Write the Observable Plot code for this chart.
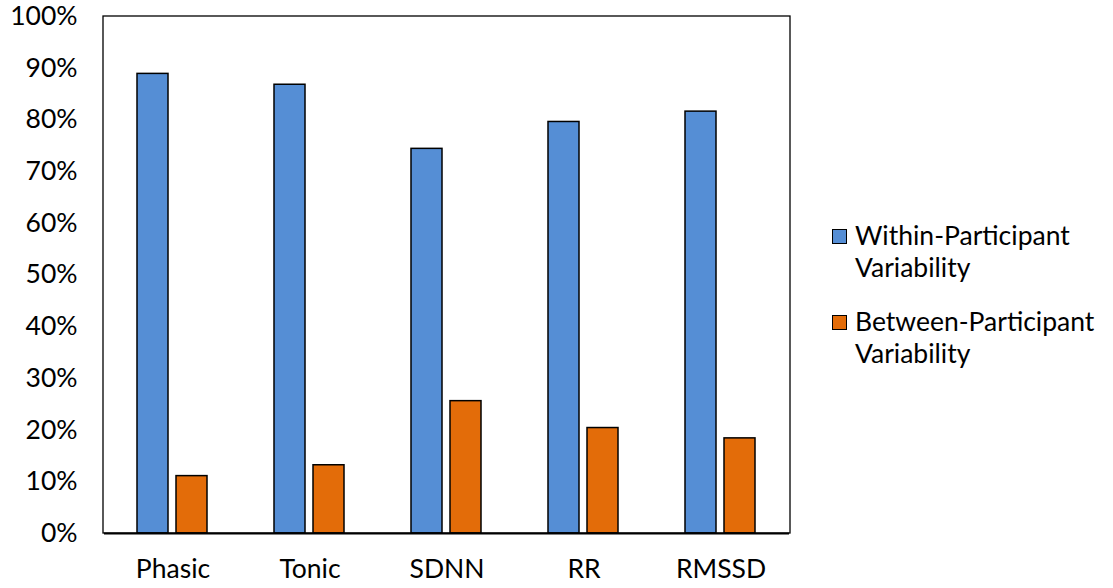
<!DOCTYPE html>
<html>
<head>
<meta charset="utf-8">
<script src="https://cdn.jsdelivr.net/npm/d3@7"></script>
<script src="https://cdn.jsdelivr.net/npm/@observablehq/plot@0.6"></script>
<style>
  html, body { margin: 0; padding: 0; background: #fff; }
  #wrap { position: relative; width: 1113px; height: 588px; font-family: Lato, "Open Sans", sans-serif; }
  #legend { position: absolute; left: 832px; top: 219px; font-size: 26.5px; color: #000; line-height: 32px; }
  .item { position: relative; padding-left: 23px; margin-bottom: 22px; white-space: nowrap; }
  .sw { position: absolute; left: 0; top: 10px; width: 13px; height: 13px; border: 1.5px solid #000; box-sizing: content-box; }
</style>
</head>
<body>
<div id="wrap"></div>
<script>
// Share of variance in each physiological measure
const categories = ["Phasic", "Tonic", "SDNN", "RR", "RMSSD"];
const withinParticipant = [88.9, 86.8, 74.4, 79.6, 81.6];
const betweenParticipant = [11.1, 13.2, 25.6, 20.4, 18.4];
const seriesNames = ["Within-Participant Variability", "Between-Participant Variability"];
const seriesColors = ["#558ED5", "#E36C09"];
const yTicks = [0, 10, 20, 30, 40, 50, 60, 70, 80, 90, 100];

const rows = categories.flatMap((c, i) => [
  {category: c, series: seriesNames[0], value: withinParticipant[i]},
  {category: c, series: seriesNames[1], value: betweenParticipant[i]}
]);

const W = 1113, H = 588;
const mL = 103, mR = 323, mT = 16, mB = 55;

const chart = Plot.plot({
  width: W,
  height: H,
  marginLeft: mL,
  marginRight: mR,
  marginTop: mT,
  marginBottom: mB,
  style: {fontFamily: "Lato, 'Open Sans', sans-serif", fontSize: "26.5px", color: "#000", background: "#fff"},
  fx: {domain: categories, padding: 0, axis: "bottom", label: null, tickSize: 0, tickPadding: 26},
  x: {domain: seriesNames, paddingInner: 0.205, paddingOuter: 0.85, axis: null},
  y: {domain: [0, 100], ticks: yTicks, tickFormat: d => d + "%", tickSize: 0, tickPadding: 27, label: null},
  color: {domain: seriesNames, range: seriesColors},
  marks: [
    Plot.barY(rows, {fx: "category", x: "series", y: "value", fill: "series", stroke: "#000", strokeWidth: 1.5}),
    Plot.ruleY([0], {stroke: "#000", strokeWidth: 2})
  ]
});

// outline of the plotting area
d3.select(chart).append("rect")
  .attr("x", mL).attr("y", mT)
  .attr("width", W - mL - mR).attr("height", H - mT - mB)
  .attr("fill", "none").attr("stroke", "#000").attr("stroke-width", 1.3);

const wrap = document.getElementById("wrap");
wrap.appendChild(chart);

// legend
const legend = document.createElement("div");
legend.id = "legend";
const labels = [["Within-Participant", "Variability"], ["Between-Participant", "Variability"]];
labels.forEach((lines, i) => {
  const item = document.createElement("div");
  item.className = "item";
  const sw = document.createElement("span");
  sw.className = "sw";
  sw.style.background = seriesColors[i];
  item.appendChild(sw);
  lines.forEach((t, j) => {
    if (j) item.appendChild(document.createElement("br"));
    item.appendChild(document.createTextNode(t));
  });
  legend.appendChild(item);
});
wrap.appendChild(legend);
</script>
</body>
</html>
